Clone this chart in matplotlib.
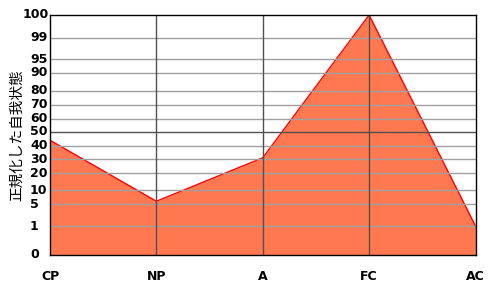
import numpy as np
import matplotlib
matplotlib.use('Agg')
import matplotlib.pyplot as plt
import matplotlib.transforms as mtransforms

# データ
categories = ['CP', 'NP', 'A', 'FC', 'AC']
values = [44, 6, 31, 100, 1]

# 縦軸の目盛り（非線形スケール）
tick_values = [0, 1, 5, 10, 20, 30, 40, 50, 60, 70, 80, 90, 95, 99, 100]
tick_heights = [0, 29, 51, 65, 82, 96, 109.3, 123.3, 136.3, 150.3, 164.3,
                182.3, 195.8, 217.3, 240.3]

FILL_COLOR = '#FF7850'
EDGE_COLOR = '#FF0000'
GRID_LIGHT = '#A0A0A0'
GRID_DARK = '#505050'


def forward(v):
    return np.interp(v, tick_values, tick_heights)


def inverse(h):
    return np.interp(h, tick_heights, tick_values)


fig = plt.figure(figsize=(5, 3), dpi=100)
ax = fig.add_axes([50 / 500, 45 / 300, 425.5 / 500, 240 / 300])
ax.set_yscale('function', functions=(forward, inverse))
ax.set_xlim(0, len(categories) - 1)
ax.set_ylim(0, 100)

x = np.arange(len(categories))
ax.fill_between(x, values, 0, color=FILL_COLOR, lw=0, zorder=1)
ax.plot(x, values, color=EDGE_COLOR, lw=1, zorder=2)

# グリッド線
for t in tick_values[1:-1]:
    ax.axhline(t, color=GRID_DARK if t == 50 else GRID_LIGHT, lw=1, zorder=3)
for xi in x[1:-1]:
    ax.axvline(xi, color=GRID_DARK, lw=1, zorder=3)

for s in ax.spines.values():
    s.set_color('black')
    s.set_linewidth(1)
    s.set_zorder(4)

# 縦軸ラベル
ax.set_yticks([])
trans = mtransforms.blended_transform_factory(fig.transFigure, ax.transData)
for t in tick_values:
    xpos = 22.7 / 500 if t == 100 else 30 / 500
    ax.text(xpos, t, str(t), transform=trans, ha='left', va='center',
            fontsize=9, fontweight='bold', family='DejaVu Sans')

ax.set_xticks(x)
ax.set_xticklabels(categories, fontsize=9, fontweight='bold', family='DejaVu Sans')
ax.tick_params(axis='x', length=0, pad=11)

fig.text(17 / 500, 1 - 135 / 300, '正規化した自我状態', rotation=90,
         ha='center', va='center', fontsize=10.5,
         family=['Noto Sans CJK JP', 'DejaVu Sans'])

fig.savefig('out.png', dpi=100)
